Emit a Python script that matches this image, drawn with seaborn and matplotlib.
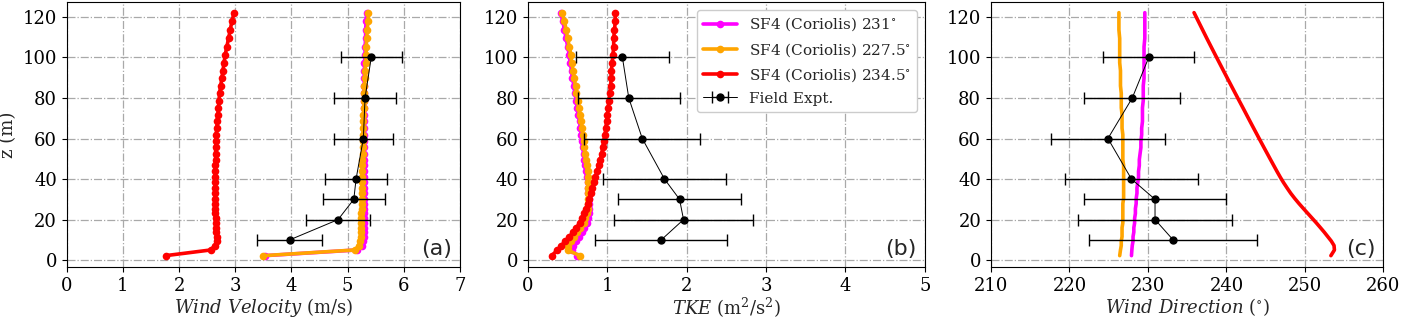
import numpy as np
import pandas as pd
import matplotlib
matplotlib.use('Agg')
import matplotlib.pyplot as plt
import seaborn as sns

sns.set_style('white')
plt.rcParams['font.family'] = ['DejaVu Serif']
plt.rcParams['mathtext.fontset'] = 'dejavuserif'
plt.rcParams['xtick.labelsize'] = 13
plt.rcParams['ytick.labelsize'] = 13
plt.rcParams['axes.labelsize'] = 13
plt.rcParams['axes.edgecolor'] = 'black'
plt.rcParams['xtick.bottom'] = True
plt.rcParams['ytick.left'] = True
plt.rcParams['xtick.color'] = 'black'
plt.rcParams['ytick.color'] = 'black'

# simulation heights (m)
z = [2.2, 5.0, 7.2, 9.4, 11.6, 13.8, 16.0, 18.3, 20.6, 23.0, 25.4, 27.9, 30.4, 33.0,
     35.6, 38.3, 41.0, 43.8, 46.7, 49.6, 52.6, 55.6, 58.7, 61.9, 65.1, 68.4, 71.8,
     75.2, 78.7, 82.3, 86.0, 89.7, 93.5, 97.4, 101.3, 105.3, 109.4, 113.6, 117.8, 122.1]

# wind velocity (m/s)
u_231 = [3.53, 5.16, 5.25, 5.28, 5.29, 5.30, 5.30, 5.30, 5.30, 5.30, 5.30, 5.30, 5.30, 5.29,
         5.29, 5.29, 5.29, 5.29, 5.29, 5.29, 5.29, 5.29, 5.29, 5.29, 5.29, 5.29, 5.29,
         5.29, 5.29, 5.29, 5.29, 5.30, 5.30, 5.30, 5.31, 5.31, 5.32, 5.32, 5.33, 5.34]
u_2275 = [3.50, 5.13, 5.20, 5.22, 5.23, 5.23, 5.24, 5.24, 5.24, 5.24, 5.25, 5.25, 5.25, 5.25,
          5.25, 5.26, 5.26, 5.26, 5.26, 5.26, 5.27, 5.27, 5.27, 5.27, 5.28, 5.28, 5.28,
          5.29, 5.29, 5.30, 5.30, 5.31, 5.31, 5.32, 5.33, 5.33, 5.34, 5.35, 5.36, 5.37]
u_2345 = [1.76, 2.56, 2.64, 2.67, 2.67, 2.66, 2.66, 2.65, 2.65, 2.64, 2.64, 2.64, 2.64, 2.64,
          2.64, 2.64, 2.64, 2.64, 2.64, 2.65, 2.65, 2.65, 2.66, 2.66, 2.67, 2.68, 2.69,
          2.70, 2.71, 2.72, 2.74, 2.76, 2.78, 2.80, 2.82, 2.85, 2.88, 2.91, 2.94, 2.98]

# TKE (m2/s2)
k_231 = [0.62, 0.55, 0.57, 0.60, 0.64, 0.68, 0.71, 0.74, 0.76, 0.77, 0.77, 0.77, 0.77, 0.76,
         0.76, 0.75, 0.74, 0.73, 0.72, 0.71, 0.70, 0.69, 0.68, 0.67, 0.66, 0.65, 0.63,
         0.62, 0.61, 0.59, 0.58, 0.56, 0.55, 0.53, 0.52, 0.50, 0.48, 0.46, 0.44, 0.41]
k_2275 = [0.65, 0.50, 0.51, 0.54, 0.58, 0.62, 0.66, 0.70, 0.72, 0.74, 0.75, 0.75, 0.76, 0.76,
          0.76, 0.76, 0.76, 0.75, 0.74, 0.73, 0.72, 0.71, 0.70, 0.69, 0.68, 0.67, 0.65,
          0.64, 0.63, 0.61, 0.60, 0.58, 0.57, 0.55, 0.54, 0.52, 0.50, 0.48, 0.46, 0.43]
k_2345 = [0.30, 0.37, 0.42, 0.47, 0.52, 0.57, 0.61, 0.65, 0.68, 0.71, 0.73, 0.75, 0.77, 0.79,
          0.81, 0.83, 0.85, 0.87, 0.89, 0.91, 0.93, 0.94, 0.96, 0.97, 0.98, 0.99, 1.00,
          1.01, 1.02, 1.03, 1.04, 1.05, 1.05, 1.06, 1.07, 1.08, 1.08, 1.09, 1.10, 1.10]

# wind direction (deg)
d_231 = [227.9, 227.95, 228.0, 228.1, 228.1, 228.2, 228.2, 228.3, 228.3, 228.4, 228.4, 228.5,
         228.5, 228.6, 228.6, 228.7, 228.8, 228.8, 228.9, 228.9, 229.0, 229.1, 229.1, 229.2,
         229.2, 229.3, 229.3, 229.3, 229.4, 229.4, 229.4, 229.5, 229.5, 229.5, 229.5, 229.5,
         229.6, 229.6, 229.6, 229.6]
d_2275 = [226.4, 226.5, 226.6, 226.6, 226.7, 226.7, 226.7, 226.8, 226.8, 226.8, 226.8, 226.8,
          226.9, 226.9, 226.9, 226.9, 226.9, 226.9, 226.9, 226.8, 226.8, 226.8, 226.8, 226.8,
          226.7, 226.7, 226.7, 226.6, 226.6, 226.6, 226.5, 226.5, 226.5, 226.4, 226.4, 226.4,
          226.4, 226.3, 226.3, 226.3]
d_2345 = [253.30, 253.75, 253.70, 253.35, 252.90, 252.45, 251.97, 251.46, 250.93, 250.37,
          249.81, 249.24, 248.70, 248.18, 247.72, 247.26, 246.84, 246.43, 246.02, 245.61,
          245.19, 244.77, 244.34, 243.90, 243.46, 243.01, 242.55, 242.09, 241.61, 241.12,
          240.62, 240.12, 239.61, 239.09, 238.57, 238.04, 237.50, 236.96, 236.42, 235.87]

# field experiment
z_obs = [10, 20, 30, 40, 60, 80, 100]
u_obs = [3.97, 4.83, 5.11, 5.15, 5.28, 5.31, 5.42]
u_err = [0.58, 0.57, 0.55, 0.55, 0.52, 0.55, 0.54]
k_obs = [1.68, 1.96, 1.91, 1.72, 1.44, 1.27, 1.19]
k_err = [0.83, 0.87, 0.78, 0.78, 0.73, 0.64, 0.59]
d_obs = [233.2, 230.9, 230.9, 227.9, 224.9, 228.0, 230.1]
d_err = [10.7, 9.8, 9.1, 8.45, 7.3, 6.1, 5.8]

labels = ['SF4 (Coriolis) 231$^{\\circ}$', 'SF4 (Coriolis) 227.5$^{\\circ}$',
          'SF4 (Coriolis) 234.5$^{\\circ}$']
colors = ['magenta', 'orange', 'red']

fig = plt.figure(figsize=(14.02, 3.18), dpi=100)
axes = [fig.add_axes([0.0476, 0.161, 0.2805, 0.833]),
        fig.add_axes([0.3766, 0.161, 0.2830, 0.833]),
        fig.add_axes([0.7068, 0.161, 0.2800, 0.833])]

panels = [
    ([u_231, u_2275, u_2345], u_obs, u_err, True, (0, 7), range(0, 8),
     '$\\it{Wind\\ Velocity}$ (m/s)', '(a)'),
    ([k_231, k_2275, k_2345], k_obs, k_err, True, (0, 5), range(0, 6),
     '$\\it{TKE}$ (m$^2$/s$^2$)', '(b)'),
    ([d_231, d_2275, d_2345], d_obs, d_err, False, (210, 260), range(210, 261, 10),
     '$\\it{Wind\\ Direction}$ ($^{\\circ}$)', '(c)'),
]

for i, (ax, (sims, obs, err, mk, xlim, xt, xlab, tag)) in enumerate(zip(axes, panels)):
    for vals, c, lab in zip(sims, colors, labels):
        df = pd.DataFrame({'x': vals, 'z': z})
        kw = dict(marker='o', markersize=5.5, markeredgewidth=0) if mk else {}
        sns.lineplot(data=df, x='x', y='z', sort=False, estimator=None, orient='y',
                     color=c, lw=2.6, ax=ax, label=lab if i == 1 else None,
                     legend=(i == 1), **kw)
    ax.errorbar(obs, z_obs, xerr=err, fmt='-o', color='black', lw=0.7,
                markersize=5, elinewidth=1, capsize=4, ecolor='black',
                label='Field Expt.' if i == 1 else None)
    ax.set_xlim(*xlim)
    ax.set_xticks(list(xt))
    ax.set_ylim(-3.3, 127.4)
    ax.set_yticks(range(0, 121, 20))
    ax.grid(True, linestyle='-.', color='darkgray', lw=0.9)
    ax.set_xlabel(xlab, labelpad=1)
    ax.set_ylabel('z (m)' if i == 0 else '')
    ax.text(0.98, 0.03, tag, transform=ax.transAxes, ha='right', va='bottom',
            fontsize=16, family='DejaVu Sans')
    for s in ax.spines.values():
        s.set_color('black')

axes[1].legend(loc='upper right', fontsize=11, handlelength=2.2, framealpha=1)

plt.savefig('out.png', dpi=100)
